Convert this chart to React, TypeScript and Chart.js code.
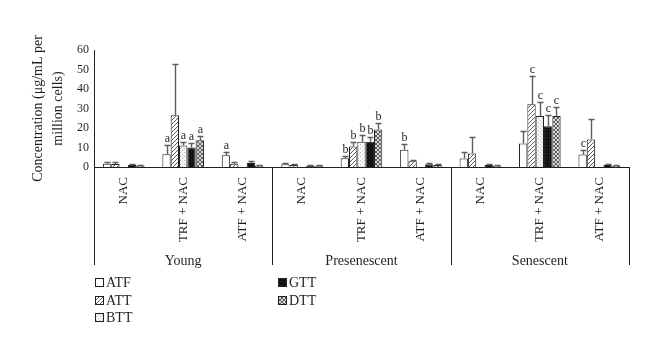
import React, { useEffect, useRef } from 'react';
import { Chart, registerables } from 'chart.js';

Chart.register(...registerables);

// ---- data ----
const categories = ['NAC', 'TRF + NAC', 'ATF + NAC', 'NAC', 'TRF + NAC', 'ATF + NAC', 'NAC', 'TRF + NAC', 'ATF + NAC'];
const groups = ['Young', 'Presenescent', 'Senescent'];
const seriesNames = ['ATF', 'ATT', 'BTT', 'GTT', 'DTT'];

const atf = [1.7, 6.5, 6.0, 1.4, 4.5, 8.8, 4.3, 12.0, 6.4];
const att = [1.5, 26.6, 1.7, 1.0, 10.5, 2.9, 6.9, 32.2, 14.1];
const btt = [null, 11.0, null, null, 12.9, null, null, 26.2, null];
const gtt = [1.0, 10.0, 2.1, 0.6, 12.9, 1.4, 1.0, 20.9, 1.0];
const dtt = [0.8, 13.7, 0.8, 0.6, 19.2, 1.0, 0.7, 26.2, 0.7];

const atfSd = [1.1, 4.8, 1.6, 0.5, 1.3, 3.0, 3.4, 6.7, 2.2];
const attSd = [1.2, 26.2, 1.1, 0.3, 2.4, 0.9, 8.5, 14.4, 10.6];
const bttSd = [0, 1.9, 0, 0, 3.7, 0, 0, 7.2, 0];
const gttSd = [0.4, 2.3, 1.2, 0.2, 2.4, 0.4, 0.4, 6.0, 0.3];
const dttSd = [0.2, 2.4, 0.2, 0.2, 3.4, 0.3, 0.2, 4.6, 0.2];

const atfMarks = ['', 'a', 'a', '', 'b', 'b', '', '', 'c'];
const attMarks = ['', '', '', '', 'b', '', '', 'c', ''];
const bttMarks = ['', 'a', '', '', 'b', '', '', 'c', ''];
const gttMarks = ['', 'a', '', '', 'b', '', '', 'c', ''];
const dttMarks = ['', 'a', '', '', 'b', '', '', 'c', ''];

const yMin = 0;
const yMax = 60;
const yStep = 10;
const yTitle = ['Concentration (\u03BCg/mL per', 'million cells)'];

const seriesValues = [atf, att, btt, gtt, dtt];
const seriesSd = [atfSd, attSd, bttSd, gttSd, dttSd];
const seriesMarks = [atfMarks, attMarks, bttMarks, gttMarks, dttMarks];

const FONT = "'Liberation Serif', 'Times New Roman', serif";
const INK = '#231f20';
const ERR = '#665b58';

function makeTile(kind: string): CanvasPattern | string {
  const c = document.createElement('canvas');
  c.width = 4;
  c.height = 4;
  const g = c.getContext('2d')!;
  const px = (x: number, y: number, col: string) => {
    g.fillStyle = col;
    g.fillRect(x, y, 1, 1);
  };
  if (kind === 'white') return '#ffffff';
  if (kind === 'diag') {
    g.fillStyle = '#ffffff';
    g.fillRect(0, 0, 4, 4);
    for (let i = 0; i < 4; i++) px(i, 3 - i, '#5a5a5a');
  } else if (kind === 'dots') {
    g.fillStyle = '#f6f6f6';
    g.fillRect(0, 0, 4, 4);
    px(0, 0, '#b8b8b8');
    px(2, 2, '#c8c8c8');
  } else if (kind === 'black') {
    g.fillStyle = '#111111';
    g.fillRect(0, 0, 4, 4);
    px(1, 1, '#3a3a3a');
    px(3, 3, '#2a2a2a');
  } else if (kind === 'cross') {
    g.fillStyle = '#d6d6d6';
    g.fillRect(0, 0, 4, 4);
    for (let i = 0; i < 4; i++) {
      px(i, i, '#606060');
      px(i, 3 - i, '#606060');
    }
  }
  const p = g.createPattern(c, 'repeat');
  return p || '#888';
}

const kinds = ['white', 'diag', 'dots', 'black', 'cross'];

const extrasPlugin = {
  id: 'extras',
  afterDatasetsDraw(chart: any) {
    const ctx: CanvasRenderingContext2D = chart.ctx;
    const y = chart.scales.y;
    ctx.save();
    chart.data.datasets.forEach((ds: any, di: number) => {
      const meta = chart.getDatasetMeta(di);
      const sd = seriesSd[di];
      const marks = seriesMarks[di];
      meta.data.forEach((bar: any, i: number) => {
        const v = ds.data[i];
        if (v == null) return;
        const x = Math.round(bar.x) + 0.5;
        const yTop = y.getPixelForValue(v);
        let capY = yTop;
        if (sd[i] > 0) {
          const ye = Math.round(y.getPixelForValue(v + sd[i])) + 0.5;
          ctx.strokeStyle = ERR;
          ctx.lineWidth = 1.4;
          ctx.beginPath();
          ctx.moveTo(x, yTop);
          ctx.lineTo(x, ye);
          ctx.moveTo(x - 3, ye);
          ctx.lineTo(x + 3, ye);
          ctx.stroke();
          capY = ye;
        }
        if (marks[i]) {
          ctx.fillStyle = INK;
          ctx.font = `12px ${FONT}`;
          ctx.textAlign = 'center';
          ctx.textBaseline = 'bottom';
          ctx.fillText(marks[i], x, capY - 1);
        }
      });
    });
    ctx.restore();
  },
  afterDraw(chart: any) {
    const ctx: CanvasRenderingContext2D = chart.ctx;
    const xs = chart.scales.x;
    const x2 = chart.scales.x2;
    const area = chart.chartArea;
    ctx.save();
    // group separators
    const bounds = [area.left];
    for (let g = 1; g < groups.length; g++) {
      const a = xs.getPixelForValue(g * 3 - 1);
      const b = xs.getPixelForValue(g * 3);
      bounds.push((a + b) / 2);
    }
    bounds.push(area.right);
    ctx.strokeStyle = INK;
    ctx.lineWidth = 1;
    ctx.beginPath();
    bounds.forEach((bx) => {
      const px = Math.round(bx) + 0.5;
      ctx.moveTo(px, area.bottom);
      ctx.lineTo(px, x2.top + 18);
    });
    ctx.stroke();

    // legend
    const cols = [area.left + 1, area.left + 184];
    const rows = [x2.bottom + 5, x2.bottom + 23, x2.bottom + 40];
    ctx.font = `14px ${FONT}`;
    ctx.textBaseline = 'middle';
    ctx.textAlign = 'left';
    chart.data.datasets.forEach((ds: any, di: number) => {
      const col = di < 3 ? 0 : 1;
      const row = di < 3 ? di : di - 3;
      const bx = cols[col];
      const by = rows[row];
      ctx.fillStyle = ds.backgroundColor;
      ctx.fillRect(bx, by - 4, 9, 9);
      ctx.strokeStyle = INK;
      ctx.lineWidth = 1;
      ctx.strokeRect(bx + 0.5, by - 3.5, 8, 8);
      ctx.fillStyle = INK;
      ctx.fillText(ds.label, bx + 11, by + 1);
    });
    ctx.restore();
  },
};

export default function App() {
  const ref = useRef<HTMLCanvasElement | null>(null);
  useEffect(() => {
    if (!ref.current) return;
    const datasets = seriesNames.map((name, i) => ({
      label: name,
      data: seriesValues[i],
      backgroundColor: makeTile(kinds[i]),
      borderColor: INK,
      borderWidth: 1,
      barPercentage: 1.0,
      categoryPercentage: 0.7,
    }));
    const chart = new Chart(ref.current, {
      type: 'bar',
      data: { labels: categories, datasets },
      plugins: [extrasPlugin],
      options: {
        animation: false,
        responsive: true,
        maintainAspectRatio: false,
        devicePixelRatio: 1,
        layout: { padding: { top: 42, right: 23, bottom: 68, left: 0 } },
        plugins: { legend: { display: false }, tooltip: { enabled: false } },
        scales: {
          x: {
            type: 'category',
            grid: { display: false, drawTicks: false },
            border: { display: true, color: INK, width: 1 },
            ticks: {
              autoSkip: false,
              minRotation: 90,
              maxRotation: 90,
              padding: 10,
              color: INK,
              font: { family: FONT, size: 13 },
            },
            afterFit: (s: any) => {
              s.height = 80;
            },
          },
          x2: {
            type: 'category',
            labels: groups,
            position: 'bottom',
            weight: 1,
            offset: true,
            grid: { display: false, drawTicks: false },
            border: { display: false },
            ticks: {
              autoSkip: false,
              minRotation: 0,
              maxRotation: 0,
              padding: 6,
              color: INK,
              font: { family: FONT, size: 14 },
            },
            afterFit: (s: any) => {
              s.height = 30;
            },
          },
          y: {
            min: yMin,
            max: yMax,
            grid: { display: false, drawTicks: false },
            border: { display: true, color: INK, width: 1 },
            ticks: {
              stepSize: yStep,
              padding: 5,
              color: INK,
              font: { family: FONT, size: 12 },
            },
            title: {
              display: true,
              text: yTitle,
              color: INK,
              font: { family: FONT, size: 14, lineHeight: 1.43 },
              padding: { top: 20, bottom: 0 },
            },
            afterFit: (s: any) => {
              s.width = 86;
            },
          },
        },
      } as any,
    });
    return () => chart.destroy();
  }, []);
  return (
    <div style={{ width: 644, height: 337, position: 'relative' }}>
      <canvas ref={ref} />
    </div>
  );
}
